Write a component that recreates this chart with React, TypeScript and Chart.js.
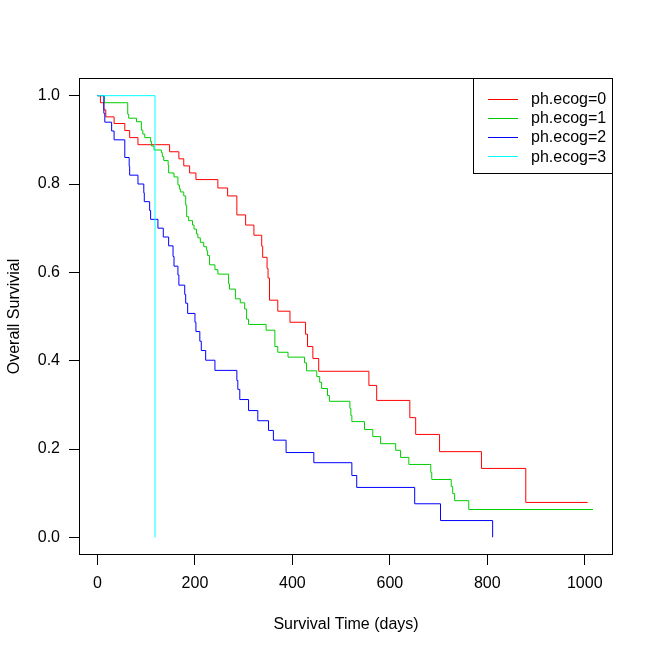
import React, { useEffect, useRef } from "react";
import { Chart, registerables } from "chart.js";

Chart.register(...registerables);

const groupLabels = ["ph.ecog=0", "ph.ecog=1", "ph.ecog=2", "ph.ecog=3"];
const groupColors = ["#FF0000", "#00CD00", "#0000FF", "#00FFFF"];

const ecog0Times = [0, 6, 13, 17, 34, 56, 66, 83, 148, 167, 177, 189, 202, 247, 267, 286, 304, 321, 337, 339, 348, 350, 353, 370, 395, 427, 431, 442, 454, 557, 573, 641, 653, 702, 788, 879, 1006];
const ecog0Surv = [1, 0.984, 0.968, 0.952, 0.937, 0.921, 0.905, 0.889, 0.873, 0.857, 0.841, 0.825, 0.81, 0.791, 0.773, 0.73, 0.707, 0.684, 0.659, 0.634, 0.609, 0.587, 0.537, 0.512, 0.487, 0.46, 0.432, 0.405, 0.376, 0.344, 0.31, 0.271, 0.233, 0.194, 0.156, 0.079, 0.079];

const ecog1Times = [0, 14, 62, 64, 80, 90, 93, 97, 109, 111, 116, 131, 133, 136, 145, 146, 157, 165, 168, 170, 177, 181, 183, 187, 195, 198, 203, 206, 211, 218, 224, 226, 230, 241, 247, 269, 271, 283, 293, 302, 306, 310, 346, 364, 370, 391, 425, 429, 450, 456, 460, 472, 476, 518, 520, 522, 548, 565, 581, 612, 622, 639, 684, 686, 726, 729, 733, 762, 1017];
const ecog1Surv = [1, 0.984, 0.958, 0.949, 0.941, 0.922, 0.913, 0.905, 0.896, 0.886, 0.877, 0.871, 0.862, 0.853, 0.843, 0.825, 0.816, 0.798, 0.789, 0.782, 0.773, 0.752, 0.726, 0.717, 0.707, 0.698, 0.687, 0.678, 0.668, 0.658, 0.649, 0.638, 0.617, 0.606, 0.596, 0.574, 0.562, 0.54, 0.531, 0.517, 0.494, 0.482, 0.469, 0.432, 0.419, 0.408, 0.395, 0.377, 0.364, 0.351, 0.337, 0.321, 0.308, 0.292, 0.276, 0.262, 0.244, 0.228, 0.212, 0.197, 0.181, 0.165, 0.147, 0.131, 0.115, 0.099, 0.083, 0.063, 0.063];

const ecog2Times = [0, 13, 15, 29, 34, 56, 65, 66, 83, 95, 96, 107, 109, 124, 135, 146, 155, 157, 165, 167, 179, 181, 185, 200, 202, 210, 213, 222, 241, 286, 288, 292, 310, 329, 351, 361, 387, 444, 522, 532, 651, 704, 811];
const ecog2Surv = [1, 0.96, 0.94, 0.92, 0.9, 0.86, 0.84, 0.82, 0.8, 0.78, 0.76, 0.74, 0.72, 0.7, 0.68, 0.66, 0.636, 0.614, 0.594, 0.571, 0.55, 0.53, 0.507, 0.487, 0.466, 0.444, 0.423, 0.401, 0.378, 0.355, 0.335, 0.312, 0.287, 0.264, 0.242, 0.22, 0.192, 0.169, 0.14, 0.113, 0.076, 0.038, 0];

const ecog3Times = [0, 118];
const ecog3Surv = [1, 0];

const xTicks = [0, 200, 400, 600, 800, 1000];
const yTicks = [0, 0.2, 0.4, 0.6, 0.8, 1.0];
const xTitle = "Survival Time (days)";
const yTitle = "Overall Survivial";

const FONT = "'Liberation Sans', Arial, sans-serif";

function toPoints(times: number[], surv: number[]) {
  return times.map((t, i) => ({ x: t, y: surv[i] }));
}

const decorPlugin = {
  id: "decor",
  afterDraw(chart: any) {
    const { ctx, chartArea } = chart;
    const { left, right, top, bottom } = chartArea;
    ctx.save();
    // plot box
    ctx.strokeStyle = "#000";
    ctx.lineWidth = 1;
    ctx.strokeRect(Math.round(left) + 0.5, Math.round(top) + 0.5, Math.round(right - left) - 1, Math.round(bottom - top) - 1);

    // axis titles
    ctx.fillStyle = "#000";
    ctx.font = `16px ${FONT}`;
    ctx.textAlign = "center";
    ctx.textBaseline = "alphabetic";
    ctx.fillText(xTitle, (left + right) / 2, 629);
    ctx.save();
    ctx.translate(19, (top + bottom) / 2);
    ctx.rotate(-Math.PI / 2);
    ctx.fillText(yTitle, 0, 0);
    ctx.restore();

    // legend
    const lw = 140;
    const lh = 96;
    const lx = Math.round(right) - lw;
    const ly = Math.round(top);
    ctx.fillStyle = "#fff";
    ctx.fillRect(lx, ly, lw, lh);
    ctx.strokeStyle = "#000";
    ctx.strokeRect(lx + 0.5, ly + 0.5, lw - 1, lh - 1);
    ctx.font = `16px ${FONT}`;
    ctx.textAlign = "left";
    ctx.textBaseline = "middle";
    groupLabels.forEach((lab, i) => {
      const yy = ly + 20.5 + i * 19.2;
      ctx.strokeStyle = groupColors[i];
      ctx.beginPath();
      ctx.moveTo(lx + 15, Math.round(yy) + 0.5);
      ctx.lineTo(lx + 45, Math.round(yy) + 0.5);
      ctx.stroke();
      ctx.fillStyle = "#000";
      ctx.fillText(lab, lx + 58, yy + 1);
    });
    ctx.restore();
  },
};

export default function App() {
  const ref = useRef<HTMLCanvasElement | null>(null);
  useEffect(() => {
    if (!ref.current) return;
    const series = [
      toPoints(ecog0Times, ecog0Surv),
      toPoints(ecog1Times, ecog1Surv),
      toPoints(ecog2Times, ecog2Surv),
      toPoints(ecog3Times, ecog3Surv),
    ];
    const chart = new Chart(ref.current, {
      type: "line",
      data: {
        datasets: series.map((pts, i) => ({
          label: groupLabels[i],
          data: pts,
          borderColor: groupColors[i],
          backgroundColor: groupColors[i],
          borderWidth: 1,
          pointRadius: 0,
          pointHoverRadius: 0,
          stepped: "before" as const,
          fill: false,
          order: 4 - i,
        })),
      },
      options: {
        animation: false,
        responsive: false,
        devicePixelRatio: 1,
        events: [],
        layout: { padding: { top: 78, right: 40, left: 0, bottom: 0 } },
        plugins: {
          legend: { display: false },
          tooltip: { enabled: false },
          title: { display: false },
        },
        scales: {
          x: {
            type: "linear",
            min: -38,
            max: 1058,
            afterFit(scale: any) {
              scale.height = 98;
            },
            afterBuildTicks(scale: any) {
              scale.ticks = xTicks.map((v) => ({ value: v }));
            },
            border: { display: false },
            grid: {
              drawOnChartArea: false,
              drawTicks: true,
              tickLength: 10,
              color: "#000",
              tickColor: "#000",
            },
            ticks: {
              color: "#000",
              padding: 9,
              maxRotation: 0,
              autoSkip: false,
              font: { family: FONT, size: 16 },
              callback: (v: any) => String(v),
            },
          },
          y: {
            type: "linear",
            min: -0.04,
            max: 1.04,
            afterFit(scale: any) {
              scale.width = 79;
            },
            afterBuildTicks(scale: any) {
              scale.ticks = yTicks.map((v) => ({ value: v }));
            },
            border: { display: false },
            grid: {
              drawOnChartArea: false,
              drawTicks: true,
              tickLength: 10,
              color: "#000",
              tickColor: "#000",
            },
            ticks: {
              color: "#000",
              padding: 9,
              autoSkip: false,
              font: { family: FONT, size: 16 },
              callback: (v: any) => Number(v).toFixed(1),
            },
          },
        },
      },
      plugins: [decorPlugin],
    });
    return () => chart.destroy();
  }, []);
  return (
    <div style={{ position: "fixed", left: 0, top: 0, width: 653, height: 653, background: "#fff" }}>
      <canvas ref={ref} width={653} height={653} style={{ width: 653, height: 653, display: "block" }} />
    </div>
  );
}
